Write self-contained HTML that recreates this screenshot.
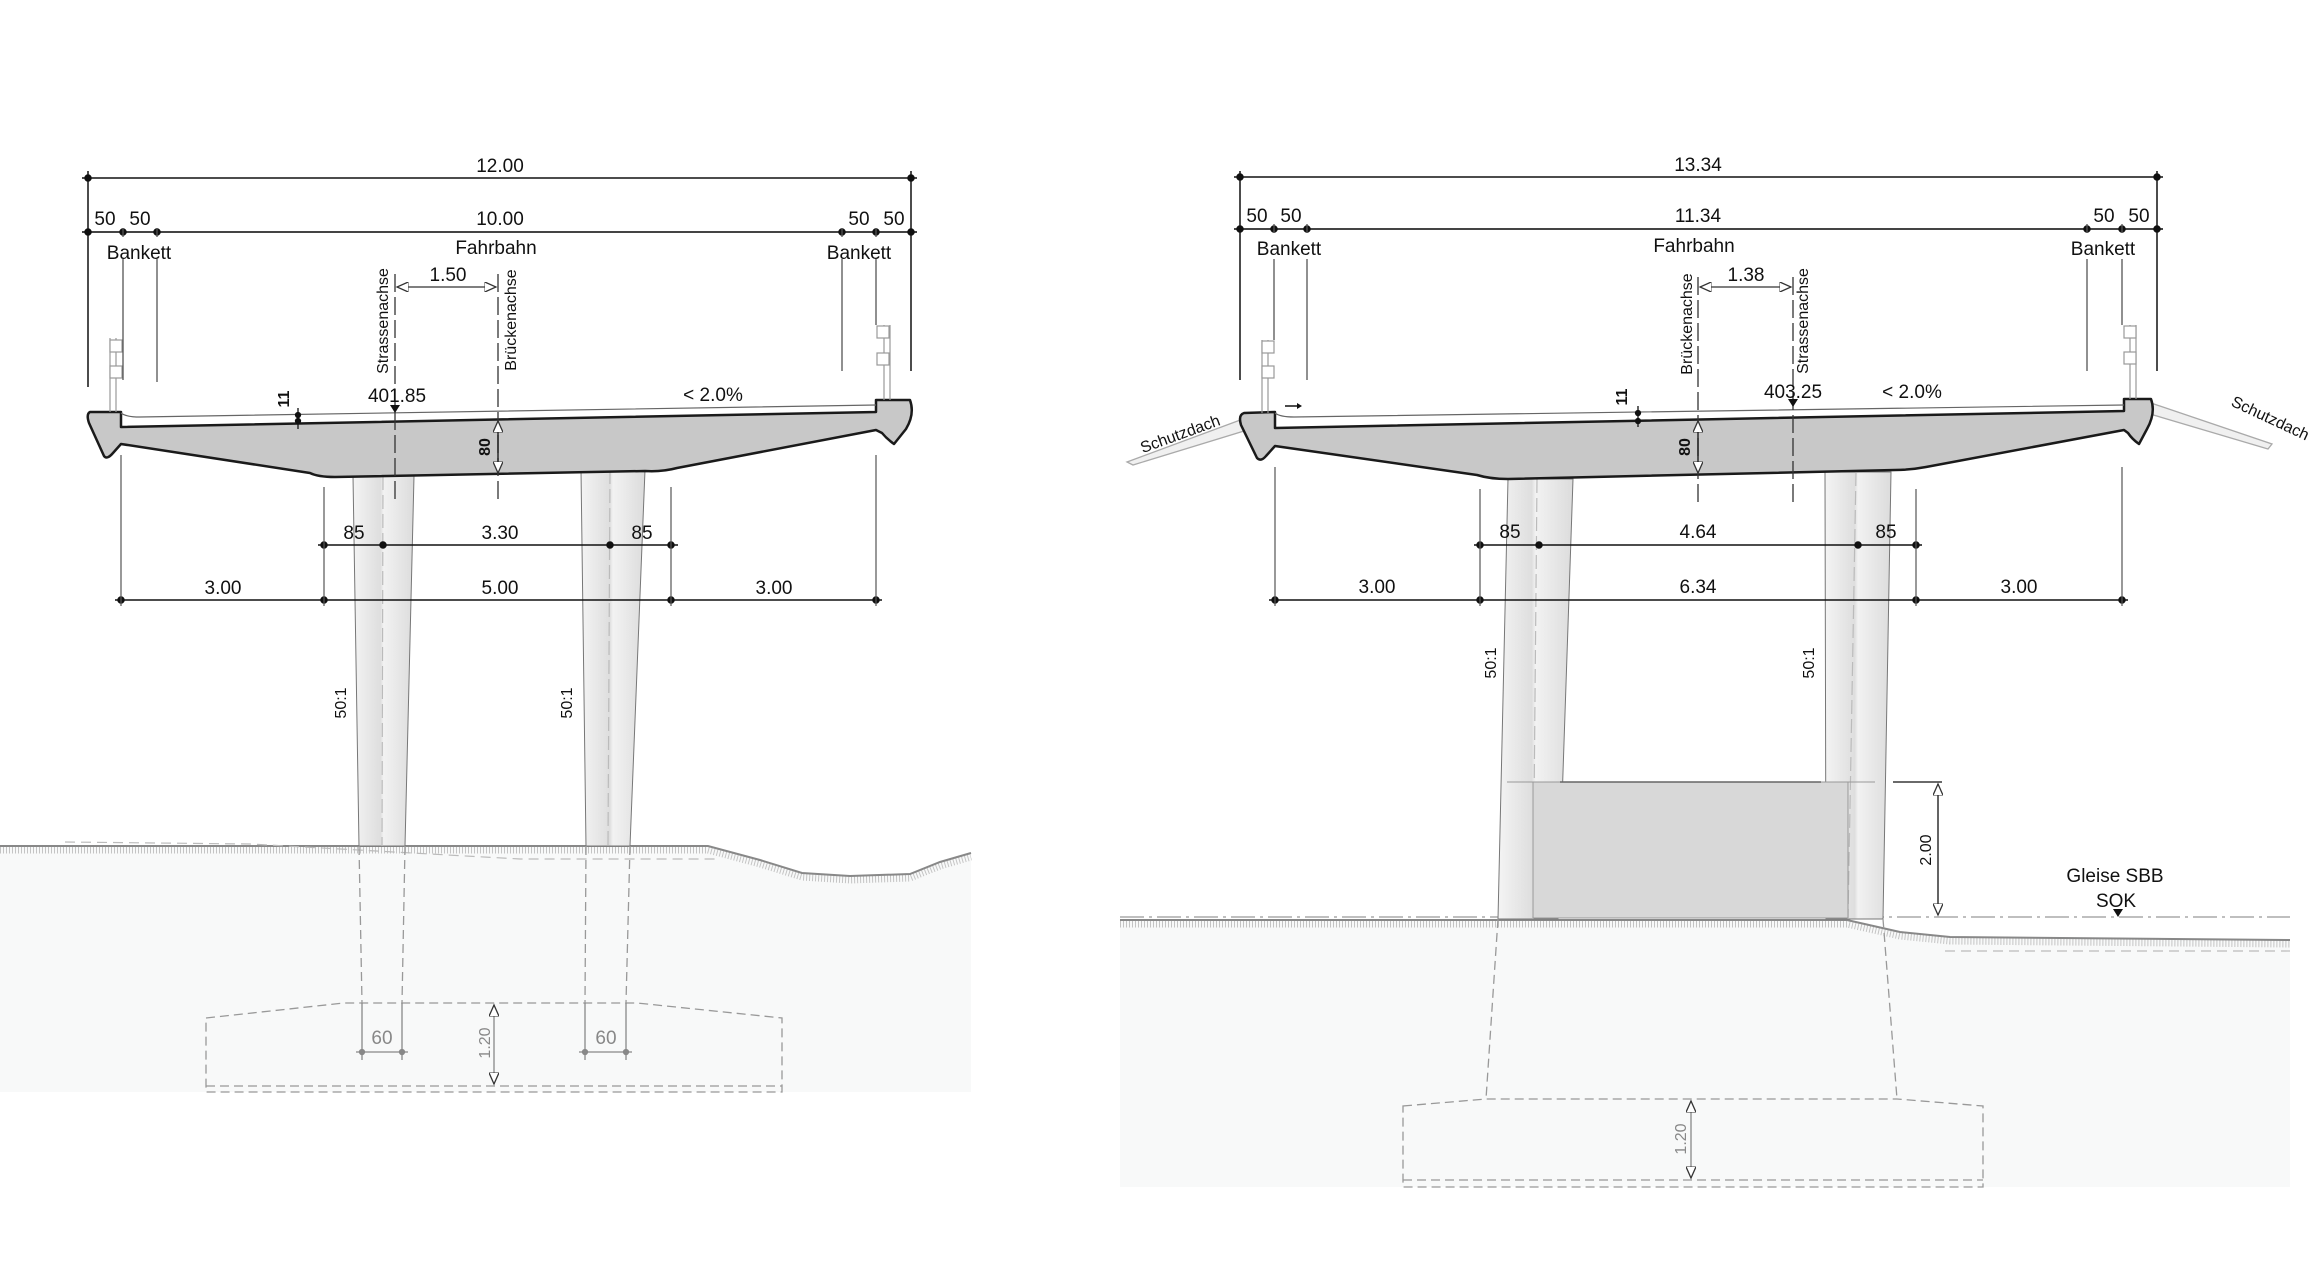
<!DOCTYPE html>
<html><head><meta charset="utf-8"><style>
html,body{margin:0;padding:0;background:#fff;}
svg{display:block;}
text{font-family:"Liberation Sans Narrow","Liberation Sans",sans-serif;fill:#111;}
.d{font-size:19px;text-anchor:middle;}
.r{font-family:"Liberation Sans",sans-serif;font-size:16px;text-anchor:middle;}
.g{fill:#888;}
</style></head><body>
<svg width="2323" height="1281" viewBox="0 0 2323 1281" xmlns="http://www.w3.org/2000/svg">
<defs>
<linearGradient id="pg" x1="0" x2="1" y1="0" y2="0">
<stop offset="0" stop-color="#f4f4f4"/><stop offset="0.45" stop-color="#dedede"/><stop offset="0.5" stop-color="#f2f2f2"/><stop offset="1" stop-color="#dcdcdc"/>
</linearGradient>
<marker id="oa" markerWidth="10" markerHeight="8" refX="9" refY="4" orient="auto"><path d="M0,0 L9,4 L0,8 Z" fill="#fff" stroke="#333" stroke-width="1"/></marker>
<marker id="oas" markerWidth="10" markerHeight="8" refX="1" refY="4" orient="auto"><path d="M10,0 L1,4 L10,8 Z" fill="#fff" stroke="#333" stroke-width="1"/></marker>
</defs>

<!-- ===================== LEFT ===================== -->
<path d="M0,846 L708,846 L760,860 L802,873 L850,876 L910,874 L940,862 L971,853 L971,1092 L0,1092 Z" fill="#f8f9f9"/>
<path d="M0,850 L708,850 L760,864 L802,877 L850,880 L910,878 L940,866 L971,857" fill="none" stroke="#c4c4c4" stroke-width="7" stroke-dasharray="1 2"/>
<path d="M0,846 L708,846 L760,860 L802,873 L850,876 L910,874 L940,862 L971,853" fill="none" stroke="#888" stroke-width="2"/>
<path d="M65,842 L250,844 L520,859 L716,859" fill="none" stroke="#bbb" stroke-width="1.2" stroke-dasharray="10 6"/>

<polygon points="353,476 414,476 405,846 359,846" fill="url(#pg)" stroke="#777" stroke-width="1"/>
<polygon points="581,470 645,470 630,846 586,846" fill="url(#pg)" stroke="#777" stroke-width="1"/>
<g stroke="#999" stroke-width="1.3" stroke-dasharray="9 5" fill="none">
<line x1="359" y1="846" x2="362" y2="1003"/><line x1="405" y1="846" x2="402" y2="1003"/>
<line x1="586" y1="846" x2="585" y2="1003"/><line x1="630" y1="846" x2="626" y2="1003"/>
<polygon points="206,1018 344,1003 637,1003 782,1018 782,1092 206,1092"/>
<line x1="206" y1="1086" x2="782" y2="1086"/>
</g>
<g stroke="#bbb" stroke-width="1.2" stroke-dasharray="14 5" fill="none">
<line x1="383" y1="476" x2="382" y2="846"/><line x1="610" y1="470" x2="608" y2="846"/>
</g>
<g stroke="#888" stroke-width="1.3" fill="#888">
<line x1="362" y1="1003" x2="362" y2="1060"/><line x1="402" y1="1003" x2="402" y2="1060"/>
<line x1="356" y1="1052" x2="408" y2="1052"/><circle cx="362" cy="1052" r="2.5"/><circle cx="402" cy="1052" r="2.5"/>
<line x1="585" y1="1003" x2="585" y2="1060"/><line x1="626" y1="1003" x2="626" y2="1060"/>
<line x1="579" y1="1052" x2="632" y2="1052"/><circle cx="585" cy="1052" r="2.5"/><circle cx="626" cy="1052" r="2.5"/>
<line x1="494" y1="1005" x2="494" y2="1084" marker-start="url(#oas)" marker-end="url(#oa)"/>
</g>
<text class="d g" x="382" y="1044">60</text>
<text class="d g" x="606" y="1044">60</text>
<text class="r g" font-size="18" transform="translate(490,1043) rotate(-90)">1.20</text>
<text class="r" font-size="17" transform="translate(346,703) rotate(-90)">50:1</text>
<text class="r" font-size="17" transform="translate(572,703) rotate(-90)">50:1</text>

<path d="M90,412 L121,412 L121,427 L876,412 L876,400 L910,400 Q915,414 906,429 L894,444 Q887,439 882,433 L876,430 L677,468 Q662,472 645,471 L335,477 Q318,477 310,473 L121,444 L113,453 Q107,460 104,456 L89,423 Q86,414 90,412 Z" fill="#c8c8c8" stroke="#1a1a1a" stroke-width="2.5" stroke-linejoin="round"/>
<path d="M121,413 Q126,417 140,417 L876,405" fill="none" stroke="#666" stroke-width="1.2"/>
<g stroke="#999" stroke-width="1.2" fill="#fff">
<line x1="116" y1="338" x2="116" y2="412"/><line x1="110" y1="338" x2="110" y2="412"/>
<rect x="110" y="340" width="12" height="12"/><rect x="110" y="366" width="12" height="12"/>
<line x1="884" y1="325" x2="884" y2="400"/><line x1="890" y1="325" x2="890" y2="400"/>
<rect x="877" y="326" width="12" height="12"/><rect x="877" y="353" width="12" height="12"/>
</g>

<g stroke="#111" stroke-width="1.5" fill="#111">
<line x1="82" y1="178" x2="917" y2="178"/><circle cx="88" cy="178" r="3"/><circle cx="911" cy="178" r="3"/>
<line x1="82" y1="232" x2="917" y2="232" stroke="#444" stroke-width="2"/>
<circle cx="88" cy="232" r="3"/><circle cx="123" cy="232" r="3"/><circle cx="157" cy="232" r="3"/>
<circle cx="842" cy="232" r="3"/><circle cx="876" cy="232" r="3"/><circle cx="911" cy="232" r="3"/>
<line x1="88" y1="171" x2="88" y2="387"/><line x1="911" y1="171" x2="911" y2="371"/>
</g>
<g stroke="#555" stroke-width="1.3">
<line x1="123" y1="228" x2="123" y2="237"/><line x1="157" y1="228" x2="157" y2="237"/>
<line x1="842" y1="228" x2="842" y2="237"/><line x1="876" y1="228" x2="876" y2="237"/>
<line x1="123" y1="259" x2="123" y2="380"/><line x1="157" y1="259" x2="157" y2="382"/>
<line x1="842" y1="259" x2="842" y2="371"/><line x1="876" y1="259" x2="876" y2="325"/>
</g>
<text class="d" x="500" y="172">12.00</text>
<text class="d" x="500" y="225">10.00</text>
<text class="d" x="105" y="225">50</text><text class="d" x="140" y="225">50</text>
<text class="d" x="859" y="225">50</text><text class="d" x="894" y="225">50</text>
<text class="d" x="139" y="259">Bankett</text>
<text class="d" x="859" y="259">Bankett</text>
<text class="d" x="496" y="254">Fahrbahn</text>

<g stroke="#333" stroke-width="1.3" stroke-dasharray="18 5" fill="none">
<line x1="395" y1="274" x2="395" y2="501"/><line x1="498" y1="274" x2="498" y2="501"/>
</g>
<line x1="397" y1="287" x2="496" y2="287" stroke="#333" stroke-width="1.3" marker-start="url(#oas)" marker-end="url(#oa)"/>
<text class="d" x="448" y="281" font-size="17">1.50</text>
<text class="r" font-size="17" transform="translate(388,321) rotate(-90)">Strassenachse</text>
<text class="r" font-size="17" transform="translate(516,320) rotate(-90)">Brückenachse</text>
<text class="d" x="397" y="402">401.85</text>
<polygon points="390,405 400,405 395,413" fill="#111"/>
<text class="d" x="713" y="401">&lt; 2.0%</text>
<text class="r" font-weight="bold" font-size="16" transform="translate(289,399) rotate(-90)">11</text>
<g stroke="#111" stroke-width="1.3" fill="#111"><line x1="298" y1="408" x2="298" y2="429"/><circle cx="298" cy="415" r="2.5"/><circle cx="298" cy="421" r="2.5"/></g>
<line x1="498" y1="421" x2="498" y2="473" stroke="#111" stroke-width="1.3" marker-start="url(#oas)" marker-end="url(#oa)"/>
<text class="r" font-weight="bold" font-size="17" transform="translate(490,447) rotate(-90)">80</text>

<g stroke="#111" stroke-width="1.5" fill="#111">
<line x1="318" y1="545" x2="678" y2="545"/>
<circle cx="324" cy="545" r="3"/><circle cx="383" cy="545" r="3"/><circle cx="610" cy="545" r="3"/><circle cx="671" cy="545" r="3"/>
<line x1="115" y1="600" x2="882" y2="600"/>
<circle cx="121" cy="600" r="3"/><circle cx="324" cy="600" r="3"/><circle cx="671" cy="600" r="3"/><circle cx="876" cy="600" r="3"/>
</g>
<g stroke="#555" stroke-width="1.2">
<line x1="324" y1="487" x2="324" y2="606"/><line x1="671" y1="487" x2="671" y2="606"/>
<line x1="121" y1="455" x2="121" y2="606"/><line x1="876" y1="455" x2="876" y2="606"/>
</g>
<text class="d" x="354" y="539">85</text><text class="d" x="500" y="539">3.30</text><text class="d" x="642" y="539">85</text>
<text class="d" x="223" y="594">3.00</text><text class="d" x="500" y="594">5.00</text><text class="d" x="774" y="594">3.00</text>

<!-- ===================== RIGHT ===================== -->
<path d="M1120,920 L1847,920 L1900,932 L1950,937 L2290,940 L2290,1187 L1120,1187 Z" fill="#f8f9f9"/>
<path d="M1120,924 L1847,924 L1900,936 L1950,941 L2290,944" fill="none" stroke="#c4c4c4" stroke-width="7" stroke-dasharray="1 2"/>
<path d="M1120,920 L1847,920 L1900,932 L1950,937 L2290,940" fill="none" stroke="#888" stroke-width="2"/>
<path d="M1945,951 L2290,951" stroke="#bbb" stroke-width="1.2" stroke-dasharray="10 6"/>
<line x1="1120" y1="917" x2="2290" y2="917" stroke="#999" stroke-width="1.3" stroke-dasharray="24 5 3 5"/>

<polygon points="1508,479 1573,479 1558,919 1498,919" fill="url(#pg)" stroke="#777" stroke-width="1"/>
<polygon points="1825,472 1891,472 1883,919 1826,919" fill="url(#pg)" stroke="#777" stroke-width="1"/>
<g stroke="#bbb" stroke-width="1.2" stroke-dasharray="14 5"><line x1="1537" y1="479" x2="1533" y2="919"/><line x1="1856" y1="472" x2="1848" y2="919"/></g>
<rect x="1533" y="782" width="315" height="136" fill="#d8d8d8" stroke="#999" stroke-width="1"/>
<line x1="1507" y1="782" x2="1875" y2="782" stroke="#999" stroke-width="1"/>
<line x1="1560" y1="782" x2="1821" y2="782" stroke="#666" stroke-width="1.5"/>
<g stroke="#999" stroke-width="1.3" stroke-dasharray="9 5" fill="none">
<line x1="1498" y1="919" x2="1486" y2="1099"/><line x1="1883" y1="919" x2="1897" y2="1099"/>
<polygon points="1403,1106 1486,1099 1897,1099 1983,1106 1983,1187 1403,1187"/>
<line x1="1403" y1="1180" x2="1983" y2="1180"/>
</g>
<line x1="1691" y1="1101" x2="1691" y2="1178" stroke="#888" stroke-width="1.3" marker-start="url(#oas)" marker-end="url(#oa)"/>
<text class="r g" font-size="18" transform="translate(1686,1139) rotate(-90)">1.20</text>
<line x1="1893" y1="782" x2="1942" y2="782" stroke="#111" stroke-width="1.2"/>
<line x1="1938" y1="784" x2="1938" y2="915" stroke="#111" stroke-width="1.3" marker-start="url(#oas)" marker-end="url(#oa)"/>
<text class="r" font-size="17" transform="translate(1931,850) rotate(-90)">2.00</text>
<text class="d" x="2115" y="882" font-size="20">Gleise SBB</text>
<text class="d" x="2116" y="907" font-size="20">SOK</text>
<polygon points="2113,909 2123,909 2118,917" fill="#111"/>
<text class="r" font-size="17" transform="translate(1496,663) rotate(-90)">50:1</text>
<text class="r" font-size="17" transform="translate(1814,663) rotate(-90)">50:1</text>

<g stroke="#aaa" stroke-width="1.3" fill="#f0f0f0">
<polygon points="1243,419 1127,462 1133,465 1244,431"/>
<polygon points="2151,403 2272,444 2268,449 2150,414"/>
</g>
<text class="r" font-size="17" transform="translate(1182,439) rotate(-20)">Schutzdach</text>
<text class="r" font-size="17" transform="translate(2268,423) rotate(25)">Schutzdach</text>

<path d="M1244,413 L1275,412 L1275,428 L2124,411 L2124,399 L2151,399 Q2156,413 2147,429 L2139,444 Q2132,439 2128,433 L2124,430 L1926,467 Q1910,470 1895,470 L1508,479 Q1490,479 1477,475 L1275,446 L1266,456 Q1261,462 1257,458 L1241,425 Q1238,415 1244,413 Z" fill="#c8c8c8" stroke="#1a1a1a" stroke-width="2.5" stroke-linejoin="round"/>
<path d="M1275,413 Q1280,417 1294,417 L2124,405" fill="none" stroke="#666" stroke-width="1.2"/>
<g stroke="#999" stroke-width="1.2" fill="#fff">
<line x1="1262" y1="340" x2="1262" y2="413"/><line x1="1268" y1="340" x2="1268" y2="413"/>
<rect x="1262" y="341" width="12" height="12"/><rect x="1262" y="366" width="12" height="12"/>
<line x1="2130" y1="325" x2="2130" y2="399"/><line x1="2136" y1="325" x2="2136" y2="399"/>
<rect x="2124" y="326" width="12" height="12"/><rect x="2124" y="352" width="12" height="12"/>
</g>
<path d="M1285,406 L1298,406" stroke="#111" stroke-width="1.5"/><polygon points="1297,403 1302,406 1297,409" fill="#111"/>

<g stroke="#111" stroke-width="1.5" fill="#111">
<line x1="1234" y1="177" x2="2163" y2="177"/><circle cx="1240" cy="177" r="3"/><circle cx="2157" cy="177" r="3"/>
<line x1="1234" y1="229" x2="2163" y2="229" stroke="#444" stroke-width="2"/>
<circle cx="1240" cy="229" r="3"/><circle cx="1274" cy="229" r="3"/><circle cx="1307" cy="229" r="3"/>
<circle cx="2087" cy="229" r="3"/><circle cx="2122" cy="229" r="3"/><circle cx="2157" cy="229" r="3"/>
<line x1="1240" y1="171" x2="1240" y2="380"/><line x1="2157" y1="171" x2="2157" y2="371"/>
</g>
<g stroke="#555" stroke-width="1.3">
<line x1="1274" y1="224" x2="1274" y2="233"/><line x1="1307" y1="224" x2="1307" y2="233"/>
<line x1="2087" y1="224" x2="2087" y2="233"/><line x1="2122" y1="224" x2="2122" y2="233"/>
<line x1="1274" y1="259" x2="1274" y2="340"/><line x1="1307" y1="259" x2="1307" y2="380"/>
<line x1="2087" y1="259" x2="2087" y2="371"/><line x1="2122" y1="259" x2="2122" y2="325"/>
</g>
<text class="d" x="1698" y="171">13.34</text>
<text class="d" x="1698" y="222">11.34</text>
<text class="d" x="1257" y="222">50</text><text class="d" x="1291" y="222">50</text>
<text class="d" x="2104" y="222">50</text><text class="d" x="2139" y="222">50</text>
<text class="d" x="1289" y="255">Bankett</text>
<text class="d" x="2103" y="255">Bankett</text>
<text class="d" x="1694" y="252">Fahrbahn</text>

<g stroke="#333" stroke-width="1.3" stroke-dasharray="18 5" fill="none">
<line x1="1698" y1="277" x2="1698" y2="502"/><line x1="1793" y1="277" x2="1793" y2="502"/>
</g>
<line x1="1700" y1="287" x2="1791" y2="287" stroke="#333" stroke-width="1.3" marker-start="url(#oas)" marker-end="url(#oa)"/>
<text class="d" x="1746" y="281" font-size="17">1.38</text>
<text class="r" font-size="17" transform="translate(1692,324) rotate(-90)">Brückenachse</text>
<text class="r" font-size="17" transform="translate(1808,321) rotate(-90)">Strassenachse</text>
<text class="d" x="1793" y="398">403.25</text>
<polygon points="1788,399 1798,399 1793,407" fill="#111"/>
<text class="d" x="1912" y="398">&lt; 2.0%</text>
<text class="r" font-weight="bold" font-size="16" transform="translate(1627,397) rotate(-90)">11</text>
<g stroke="#111" stroke-width="1.3" fill="#111"><line x1="1638" y1="406" x2="1638" y2="427"/><circle cx="1638" cy="413" r="2.5"/><circle cx="1638" cy="421" r="2.5"/></g>
<line x1="1698" y1="421" x2="1698" y2="473" stroke="#111" stroke-width="1.3" marker-start="url(#oas)" marker-end="url(#oa)"/>
<text class="r" font-weight="bold" font-size="17" transform="translate(1690,447) rotate(-90)">80</text>

<g stroke="#111" stroke-width="1.5" fill="#111">
<line x1="1474" y1="545" x2="1922" y2="545"/>
<circle cx="1480" cy="545" r="3"/><circle cx="1539" cy="545" r="3"/><circle cx="1858" cy="545" r="3"/><circle cx="1916" cy="545" r="3"/>
<line x1="1269" y1="600" x2="2128" y2="600"/>
<circle cx="1275" cy="600" r="3"/><circle cx="1480" cy="600" r="3"/><circle cx="1916" cy="600" r="3"/><circle cx="2122" cy="600" r="3"/>
</g>
<g stroke="#555" stroke-width="1.2">
<line x1="1480" y1="489" x2="1480" y2="606"/><line x1="1916" y1="489" x2="1916" y2="606"/>
<line x1="1275" y1="467" x2="1275" y2="606"/><line x1="2122" y1="467" x2="2122" y2="606"/>
</g>
<text class="d" x="1510" y="538">85</text><text class="d" x="1698" y="538">4.64</text><text class="d" x="1886" y="538">85</text>
<text class="d" x="1377" y="593">3.00</text><text class="d" x="1698" y="593">6.34</text><text class="d" x="2019" y="593">3.00</text>
</svg>
</body></html>
